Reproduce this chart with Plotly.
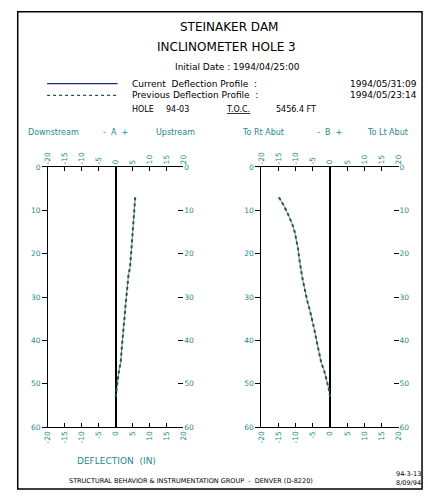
import plotly.graph_objects as go

W, H = 428, 496

# ---------------- data ----------------
depth_a = [7, 9, 11, 13, 15, 17, 19, 21, 23, 25, 27, 29, 31, 33, 35, 37, 39, 41, 43, 45, 47, 49, 51, 53]
curr_a = [5.8, 5.6, 5.3, 5.2, 5.0, 4.8, 4.7, 4.5, 4.3, 3.8, 3.5, 3.3, 3.1, 2.8, 2.6, 2.3, 2.1, 1.9, 1.7, 1.5, 1.0, 0.7, 0.3, 0.0]
prev_a = [5.8, 5.6, 5.3, 5.2, 5.0, 4.8, 4.7, 4.5, 4.3, 3.8, 3.5, 3.3, 3.1, 2.8, 2.6, 2.3, 2.1, 1.9, 1.7, 1.5, 1.0, 0.7, 0.3, 0.0]

depth_b = [7, 9, 11, 13, 15, 17, 19, 21, 23, 25, 27, 29, 31, 33, 35, 37, 39, 41, 43, 45, 47, 49, 51, 53]
curr_b = [-14.9, -13.4, -12.2, -11.1, -10.3, -9.7, -9.3, -9.0, -8.7, -8.2, -7.7, -7.2, -6.6, -5.9, -5.2, -4.7, -4.2, -3.7, -3.2, -2.6, -1.7, -1.0, -0.4, 0.0]
prev_b = [-14.9, -13.4, -12.2, -11.1, -10.3, -9.7, -9.3, -9.0, -8.7, -8.2, -7.7, -7.2, -6.6, -5.9, -5.2, -4.7, -4.2, -3.7, -3.2, -2.6, -1.7, -1.0, -0.4, 0.0]

x_ticks = [-20, -15, -10, -5, 0, 5, 10, 15, 20]
x_ticktext = ["-20", "-15", "-10", "-5", "0", "5", "10", "15", "20"]
y_ticks = [0, 10, 20, 30, 40, 50, 60]
y_ticktext = ["0", "10", "20", "30", "40", "50", "60"]

TEAL = "#1f8a8a"
NAVY = "#1c2a80"
DOTC = "#1f5a44"


def px(x):
    return x / W


def py(y):
    return 1 - y / H


fig = go.Figure()

# current (solid) and previous (dotted) profiles
fig.add_trace(go.Scatter(x=curr_a, y=depth_a, mode="lines", line=dict(color=NAVY, width=0.6),
                         xaxis="x", yaxis="y", showlegend=False, hoverinfo="skip"))
fig.add_trace(go.Scatter(x=prev_a, y=depth_a, mode="lines", line=dict(color=DOTC, width=2, dash="dot"),
                         xaxis="x", yaxis="y", showlegend=False, hoverinfo="skip"))
fig.add_trace(go.Scatter(x=curr_b, y=depth_b, mode="lines", line=dict(color=NAVY, width=0.6),
                         xaxis="x2", yaxis="y2", showlegend=False, hoverinfo="skip"))
fig.add_trace(go.Scatter(x=prev_b, y=depth_b, mode="lines", line=dict(color=DOTC, width=2, dash="dot"),
                         xaxis="x2", yaxis="y2", showlegend=False, hoverinfo="skip"))
# invisible traces to activate overlay axes
fig.add_trace(go.Scatter(x=[0], y=[0], mode="markers", marker=dict(opacity=0), xaxis="x3", yaxis="y3",
                         showlegend=False, hoverinfo="skip"))
fig.add_trace(go.Scatter(x=[0], y=[0], mode="markers", marker=dict(opacity=0), xaxis="x4", yaxis="y4",
                         showlegend=False, hoverinfo="skip"))

tickfont = dict(family="DejaVu Sans", size=7.5, color=TEAL)
dom_a = [px(44), px(182)]
dom_b = [px(262), px(402)]
dom_y = [py(431), py(166)]

xcommon = dict(range=[-20, 20], tickmode="array", tickvals=x_ticks, ticktext=x_ticktext,
               tickangle=-90, tickfont=tickfont, ticks="inside", ticklen=4, tickcolor="black",
               showgrid=False, showline=True, linecolor="black", linewidth=1.2,
               fixedrange=True)
ycommon = dict(range=[60, 0], tickmode="array", tickvals=y_ticks, ticktext=y_ticktext,
               tickfont=tickfont, ticklen=5, tickcolor="black", showgrid=False,
               zeroline=False, fixedrange=True)

fig.update_layout(
    width=W, height=H, margin=dict(l=0, r=0, t=0, b=0),
    paper_bgcolor="white", plot_bgcolor="white", showlegend=False,
    xaxis=dict(domain=dom_a, anchor="y", side="bottom", zeroline=True, zerolinecolor="black",
               zerolinewidth=1.5, **xcommon),
    yaxis=dict(domain=dom_y, anchor="x", side="left", showline=True, linecolor="black",
               linewidth=1.2, ticks="outside", **ycommon),
    xaxis3=dict(overlaying="x", anchor="y", side="top", matches="x", zeroline=False, **xcommon),
    yaxis3=dict(overlaying="y", anchor="x", side="right", matches="y", showline=False,
                ticks="inside", **ycommon),
    xaxis2=dict(domain=dom_b, anchor="y2", side="bottom", zeroline=True, zerolinecolor="black",
                zerolinewidth=1.5, **xcommon),
    yaxis2=dict(domain=dom_y, anchor="x2", side="left", showline=True, linecolor="black",
                linewidth=1.2, ticks="outside", **ycommon),
    xaxis4=dict(overlaying="x2", anchor="y2", side="top", matches="x2", zeroline=False, **xcommon),
    yaxis4=dict(overlaying="y2", anchor="x2", side="right", matches="y2", showline=False,
                ticks="inside", **ycommon),
)

ann = []


def text(x, y, s, size=9, color="black", xanchor="center", family="DejaVu Sans"):
    ann.append(dict(x=px(x), y=py(y), xref="paper", yref="paper", text=s, showarrow=False,
                    xanchor=xanchor, yanchor="middle", font=dict(family=family, size=size, color=color)))


text(229, 23, "STEINAKER DAM", size=12)
text(226, 44, "INCLINOMETER HOLE 3", size=12)
text(237, 64, "Initial Date : 1994/04/25:00", size=9)
text(128, 81, "Current  Deflection Profile  :", size=9, xanchor="left")
text(350, 81, "1994/05/31:09", size=9, xanchor="left")
text(128, 93, "Previous Deflection Profile  :", size=9, xanchor="left")
text(350, 93, "1994/05/23:14", size=9, xanchor="left")
text(141, 107, "HOLE", size=8)
text(176, 107, "94-03", size=8)
text(238, 107, "<u>T.O.C.</u>", size=8)
text(297, 107, "5456.4 FT", size=8)

text(50, 131, "Downstream", size=8, color=TEAL)
text(113, 131, "-  A  +", size=8, color=TEAL)
text(174, 131, "Upstream", size=8, color=TEAL)
text(264, 131, "To Rt Abut", size=8, color=TEAL)
text(331, 131, "-  B  +", size=8, color=TEAL)
text(391, 131, "To Lt Abut", size=8, color=TEAL)

text(114, 465, "DEFLECTION  (IN)", size=9, color=TEAL)
text(190, 486, "STRUCTURAL BEHAVIOR & INSTRUMENTATION GROUP  -  DENVER (D-8220)", size=6.5)
text(412, 479, "94-3-13", size=6.5)
text(412, 488, "8/09/94", size=6.5)
fig.update_layout(annotations=ann)

shapes = [
    dict(type="rect", xref="paper", yref="paper", x0=px(13), x1=px(426), y0=py(494), y1=py(8),
         line=dict(color="black", width=1.5)),
    # legend line samples
    dict(type="line", xref="paper", yref="paper", x0=px(43), x1=px(115), y0=py(81), y1=py(81),
         line=dict(color=NAVY, width=1.2)),
    dict(type="line", xref="paper", yref="paper", x0=px(43), x1=px(115), y0=py(93), y1=py(93),
         line=dict(color=DOTC, width=1.2, dash="dot")),
]
fig.update_layout(shapes=shapes)

fig.write_html("out.html", config={"displayModeBar": False},
               post_script="document.body.style.margin='0';document.body.style.overflow='hidden';")
